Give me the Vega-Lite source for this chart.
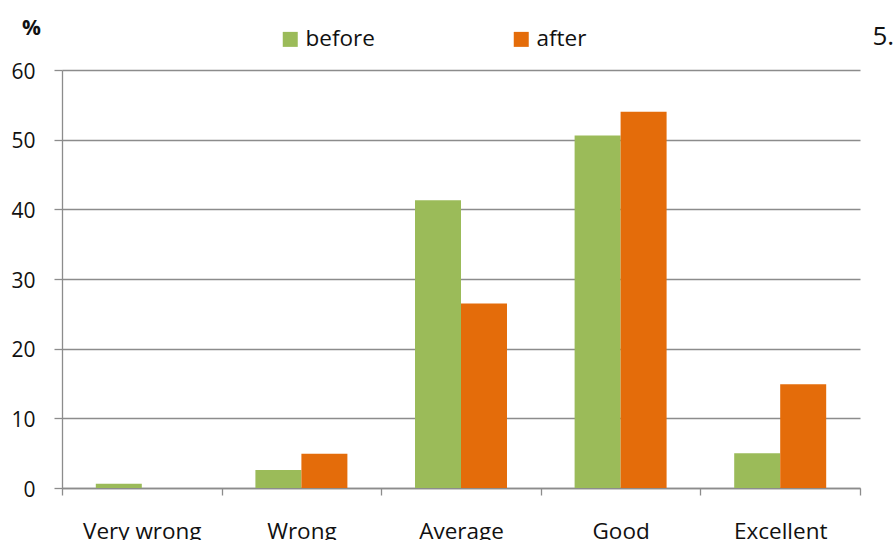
{
  "$schema": "https://vega.github.io/schema/vega-lite/v6.json",
  "autosize": "none",
  "padding": {"left": 62, "top": 70, "right": 35, "bottom": 52},
  "width": 798,
  "height": 418,
  "background": "white",
  "data": {
    "values": [
      {"rating": "Very wrong", "period": "before", "percent": 0.6},
      {"rating": "Very wrong", "period": "after", "percent": 0},
      {"rating": "Wrong", "period": "before", "percent": 2.6},
      {"rating": "Wrong", "period": "after", "percent": 4.9},
      {"rating": "Average", "period": "before", "percent": 41.3},
      {"rating": "Average", "period": "after", "percent": 26.5},
      {"rating": "Good", "period": "before", "percent": 50.6},
      {"rating": "Good", "period": "after", "percent": 54.0},
      {"rating": "Excellent", "period": "before", "percent": 5.0},
      {"rating": "Excellent", "period": "after", "percent": 14.9}
    ]
  },
  "mark": {"type": "bar", "stroke": null},
  "encoding": {
    "x": {
      "field": "rating",
      "type": "nominal",
      "sort": ["Very wrong", "Wrong", "Average", "Good", "Excellent"],
      "scale": {"paddingInner": 0, "paddingOuter": 0},
      "axis": {
        "title": "5.",
        "titleX": 810,
        "titleY": -444,
        "titleAlign": "left",
        "titleAnchor": null,
        "titleBaseline": "alphabetic",
        "titleFont": "Open Sans",
        "titleFontSize": 26,
        "titleFontWeight": "normal",
        "titleColor": "#111111",
        "labelAngle": 0,
        "grid": false,
        "tickBand": "extent",
        "ticks": true,
        "tickSize": 7,
        "tickColor": "#8c8c8c",
        "tickWidth": 1.3,
        "domainColor": "#8c8c8c",
        "domainWidth": 1.3,
        "labelFont": "Open Sans",
        "labelFontSize": 22.5,
        "labelColor": "#111111",
        "labelPadding": 25
      }
    },
    "xOffset": {
      "field": "period",
      "type": "nominal",
      "sort": ["before", "after"],
      "scale": {"paddingInner": 0, "paddingOuter": 0.735}
    },
    "y": {
      "field": "percent",
      "type": "quantitative",
      "scale": {"domain": [0, 60], "nice": false},
      "axis": {
        "title": "%",
        "titleAngle": 0,
        "titleX": -31,
        "titleY": -36,
        "titleAlign": "center",
        "titleBaseline": "alphabetic",
        "titleFont": "Open Sans",
        "titleFontSize": 21,
        "titleFontWeight": "bold",
        "titleColor": "#111111",
        "values": [0, 10, 20, 30, 40, 50, 60],
        "grid": true,
        "gridColor": "#8c8c8c",
        "gridWidth": 1.3,
        "tickSize": 8,
        "tickColor": "#8c8c8c",
        "tickWidth": 1.3,
        "domainColor": "#8c8c8c",
        "domainWidth": 1.3,
        "labelFont": "Open Sans",
        "labelFontSize": 21,
        "labelColor": "#111111",
        "labelPadding": 19,
        "labelOffset": 2
      }
    },
    "color": {
      "field": "period",
      "type": "nominal",
      "sort": ["before", "after"],
      "scale": {"domain": ["before", "after"], "range": ["#9BBB59", "#E46C0A"]},
      "legend": {
        "title": null,
        "orient": "none",
        "direction": "horizontal",
        "legendX": 217,
        "legendY": -42,
        "padding": 0,
        "symbolType": "square",
        "symbolSize": 225,
        "symbolStrokeWidth": 0,
        "symbolOpacity": 1,
        "labelOffset": 4,
        "labelFont": "Open Sans",
        "labelFontSize": 22.5,
        "labelColor": "#111111",
        "columnPadding": 135
      }
    }
  },
  "config": {
    "view": {"stroke": null}
  }
}
